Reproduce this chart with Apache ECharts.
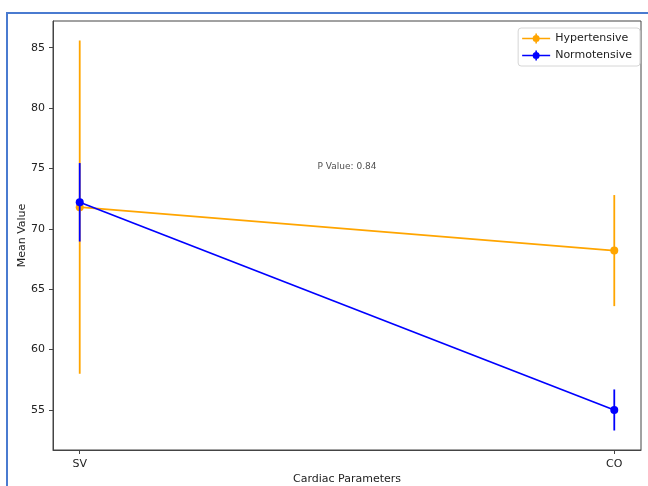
<!DOCTYPE html>
<html>
<head>
<meta charset="utf-8">
<script src="https://cdn.jsdelivr.net/npm/echarts@6/dist/echarts.min.js"></script>
<style>
  html, body { margin: 0; padding: 0; background: #fff; }
  #chart { width: 648px; height: 486px; }
</style>
</head>
<body>
<div id="chart"></div>
<script>
// Cardiac parameters: group means with error bars
const categories = ['SV', 'CO'];
const hyperMean = [71.8, 68.2];
const hyperErr = [13.8, 4.6];
const normoMean = [72.2, 55.0];
const normoErr = [3.25, 1.7];
const yTicks = [55, 60, 65, 70, 75, 80, 85];
const pValueText = 'P Value: 0.84';

const ORANGE = '#FFA500';
const BLUE = '#0000FF';
const FONT = 'DejaVu Sans';

// y range: data extent plus 5% padding on each side
const allLo = hyperMean.map((m, i) => m - hyperErr[i]).concat(normoMean.map((m, i) => m - normoErr[i]));
const allHi = hyperMean.map((m, i) => m + hyperErr[i]).concat(normoMean.map((m, i) => m + normoErr[i]));
const lo = Math.min(...allLo), hi = Math.max(...allHi);
const pad = (hi - lo) * 0.05;
const xPad = (categories.length - 1) * 0.05;

function errSeries(name, means, errs, color, z) {
  return {
    type: 'custom',
    name: name + ' err',
    z: z,
    silent: true,
    data: means.map((m, i) => [i, m - errs[i], m + errs[i]]),
    renderItem: function (params, api) {
      const a = api.coord([api.value(0), api.value(1)]);
      const b = api.coord([api.value(0), api.value(2)]);
      return {
        type: 'line',
        shape: { x1: a[0], y1: a[1], x2: b[0], y2: b[1] },
        style: { stroke: color, lineWidth: 1.8 }
      };
    }
  };
}

function lineSeries(name, means, color, z) {
  return {
    type: 'line',
    name: name,
    z: z,
    data: means.map((m, i) => [i, m]),
    symbol: 'circle',
    symbolSize: 8,
    showSymbol: true,
    lineStyle: { color: color, width: 1.7 },
    itemStyle: { color: color },
    emphasis: { disabled: true },
    animation: false
  };
}

// legend handle: line, marker and error bar
const handleIcon = 'path://M0,4.3 H28 V5.7 H0 Z M13.2,0 H14.8 V10 H13.2 Z M17.5,5 A3.5,3.5 0 1 1 10.5,5 A3.5,3.5 0 1 1 17.5,5 Z';

const chart = echarts.init(document.getElementById('chart'), null, { renderer: 'canvas' });
chart.setOption({
  animation: false,
  backgroundColor: '#fff',
  textStyle: { fontFamily: FONT },
  grid: {
    left: 53, top: 21, right: 7, bottom: 36,
    outerBoundsMode: 'none',
    containLabel: false,
    show: true, borderColor: '#444', borderWidth: 1, backgroundColor: '#fff'
  },
  legend: {
    right: 8, top: 28,
    orient: 'vertical',
    data: [
      { name: 'Hypertensive', icon: handleIcon, itemStyle: { color: ORANGE } },
      { name: 'Normotensive', icon: handleIcon, itemStyle: { color: BLUE } }
    ],
    itemWidth: 28, itemHeight: 10, itemGap: 6,
    padding: [5, 8, 5, 4],
    backgroundColor: '#fff',
    borderColor: '#d6d6d6', borderWidth: 1, borderRadius: 3,
    textStyle: { fontFamily: FONT, fontSize: 11, color: '#222' },
    selectedMode: false
  },
  xAxis: {
    type: 'value',
    min: -xPad, max: categories.length - 1 + xPad,
    name: 'Cardiac Parameters',
    nameLocation: 'middle', nameGap: 24,
    nameMoveOverlap: false,
    nameTextStyle: { fontFamily: FONT, fontSize: 11, color: '#222' },
    axisLine: { show: true, onZero: false, lineStyle: { color: '#444', width: 1 } },
    axisTick: { show: true, length: 4, lineStyle: { color: '#444' }, customValues: categories.map((c, i) => i) },
    axisLabel: {
      margin: 9, fontFamily: FONT, fontSize: 11, color: '#222',
      customValues: categories.map((c, i) => i),
      formatter: v => categories[Math.round(v)]
    },
    splitLine: { show: false }
  },
  yAxis: {
    type: 'value',
    min: lo - pad, max: hi + pad,
    name: 'Mean Value',
    nameLocation: 'middle', nameGap: 25,
    nameMoveOverlap: false,
    nameTextStyle: { fontFamily: FONT, fontSize: 11, color: '#222' },
    axisLine: { show: true, onZero: false, lineStyle: { color: '#444', width: 1 } },
    axisTick: { show: true, length: 4, lineStyle: { color: '#444' }, customValues: yTicks },
    axisLabel: { margin: 8, fontFamily: FONT, fontSize: 11, color: '#222', customValues: yTicks },
    splitLine: { show: false }
  },
  series: [
    errSeries('Hypertensive', hyperMean, hyperErr, ORANGE, 2),
    lineSeries('Hypertensive', hyperMean, ORANGE, 3),
    errSeries('Normotensive', normoMean, normoErr, BLUE, 4),
    lineSeries('Normotensive', normoMean, BLUE, 5),
    {
      type: 'scatter',
      name: 'pvalue',
      silent: true,
      symbolSize: 0,
      data: [[(categories.length - 1) / 2, 75]],
      label: {
        show: true, position: 'top', distance: -3,
        formatter: pValueText,
        fontFamily: FONT, fontSize: 9, color: '#222'
      },
      z: 6
    }
  ],
  graphic: [
    {
      type: 'rect',
      shape: { x: 7, y: 13, width: 700, height: 600 },
      style: { fill: 'none', stroke: '#4a7bd0', lineWidth: 2 },
      z: 100, silent: true
    }
  ]
});
</script>
</body>
</html>
